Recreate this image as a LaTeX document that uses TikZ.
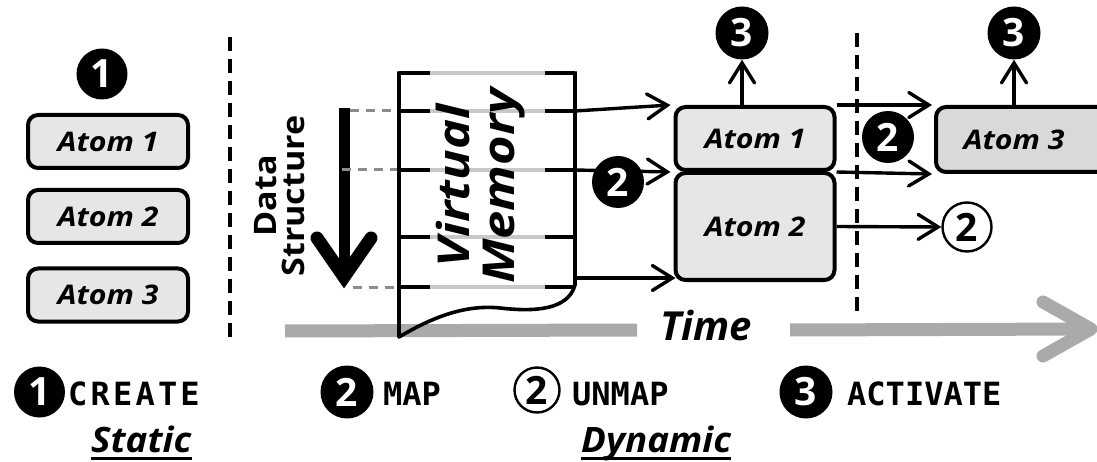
\documentclass[tikz,border=0pt]{standalone}
\usepackage{fontspec}
\setmainfont{Open Sans}
\newfontfamily\monofam{DejaVu Sans Mono}
\newfontfamily\atomfam{Open Sans}[FakeStretch=1.12]
\newfontfamily\kindfam{Open Sans}[FakeStretch=1.05]
\newfontfamily\dsfam{Open Sans}[FakeStretch=1.1]
\newfontfamily\vmfam{Open Sans}[FakeStretch=1.15]
\usetikzlibrary{arrows.meta}
\definecolor{boxgray}{HTML}{E6E6E6}
\definecolor{boxgrayb}{HTML}{D9D9D9}
\definecolor{timegray}{HTML}{AAAAAA}
\definecolor{dashgray}{HTML}{8C8C8C}
\definecolor{linegray}{HTML}{C8C8C8}
\newcommand\atomfont{\atomfam\fontsize{27}{30}\selectfont\bfseries\itshape}
\newcommand\numfont{\fontsize{39}{39}\selectfont\bfseries}
\newcommand\cmdfont{\monofam\fontsize{32}{34}\selectfont\bfseries}
\newcommand\kindfont{\kindfam\fontsize{35}{38}\selectfont\bfseries\itshape}
\begin{document}
\begin{tikzpicture}[x=1pt,y=-1pt,
  atom/.style={draw=black,line width=4pt,rounded corners=10pt,fill=boxgray,inner sep=0pt,font=\atomfont},
  bnum/.style={circle,fill=black,text=white,inner sep=0pt,minimum size=#1,font=\numfont},
  wnum/.style={circle,draw=black,fill=white,line width=2.4pt,text=black,inner sep=0pt,minimum size=#1,font=\numfont},
  conn/.style={line width=3.4pt,-{Straight Barb[length=20pt,width=25pt,line width=3.4pt,line cap=round]}},
  sep/.style={line width=3.2pt,dash pattern=on 14pt off 8pt},
  gdash/.style={dashgray,line width=3pt,dash pattern=on 9pt off 7pt},
  vmline/.style={line width=3.6pt},
  cmd/.style={anchor=base west,inner sep=0pt,font=\cmdfont},
  kind/.style={anchor=base west,inner sep=0pt,font=\kindfont},
]
\useasboundingbox (0,0) rectangle (1097,462);
\clip (0,0) rectangle (1097,462);

% ---------- time axis (drawn first, below everything) ----------
\node[inner sep=0pt,anchor=base,font=\fontsize{40}{40}\selectfont\bfseries\itshape] (time) at (706,340) {Time};
\coordinate (tL) at (285,331);
\coordinate (tR) at (1091,329);
\draw[timegray,line width=13pt] (tL) -- (637,330);
\draw[timegray,line width=13pt] (790,330) -- (tR);
\draw[timegray,line width=13pt,line cap=round,line join=round] (1043,302) -- (tR) -- (1043,356);

% ---------- static part ----------
\node[bnum=51] (c1top) at (102,74) {1};
\node[atom,minimum width=160,minimum height=53] (la1) at (108,141.5) {Atom 1};
\node[atom,minimum width=160,minimum height=53] (la2) at (108,216.5) {Atom 2};
\node[atom,minimum width=160,minimum height=53] (la3) at (108,295) {Atom 3};
\coordinate (sepAt) at (230,37);
\coordinate (sepAb) at (230,338);
\draw[sep] (sepAt) -- (sepAb);

% ---------- data structure ----------
\node[rotate=90,align=center,inner sep=0pt,font=\dsfam\fontsize{31}{28}\selectfont\bfseries] (ds) at (280,196) {Data\\Structure};
\coordinate (dsT) at (344,108);
\coordinate (dsB) at (344,277);
\draw[line width=11pt] (dsT) -- (dsB);
\coordinate (dsL) at (317,238);
\coordinate (dsR) at (371,238);
\draw[line width=13pt,line cap=round,line join=miter] (dsL) -- (dsB) -- (dsR);

% ---------- virtual memory ----------
\foreach \yy in {73,111,170,237,287}{
  \draw[linegray,vmline] (430,\yy) -- (545,\yy);
  \draw[vmline] (399,\yy) -- (430,\yy) (545,\yy) -- (575,\yy);
}
\draw[gdash] (350,111) -- (399,111);
\draw[gdash] (342,170) -- (399,170);
\draw[gdash] (353,287) -- (399,287);
\draw[vmline,line join=round] (399,71.5) -- (399,337)
  .. controls (428,320) and (462,304) .. (500,308)
  .. controls (535,312) and (568,310) .. (575,285) -- (575,71.5);
\node[rotate=90,align=center,inner sep=0pt,font=\vmfam\fontsize{44}{45}\selectfont\bfseries\itshape] (vm) at (481,186) {Virtual\\Memory};
\coordinate (vm1) at (575,111);
\coordinate (vm2) at (575,170);
\coordinate (vm3) at (575,278);

% ---------- dynamic part ----------
\node[atom,minimum width=159,minimum height=63] (ra1) at (755,138.5) {Atom 1};
\node[atom,minimum width=159,minimum height=107] (ra2) at (755,226.5) {Atom 2};
\node[atom,fill=boxgrayb,minimum width=200,minimum height=65,
  label={[font=\atomfont,xshift=-22pt]center:Atom 3}] (ra3) at (1036,139.5) {};
\coordinate (sepBt) at (857,33);
\coordinate (sepBb) at (857,312);
\draw[sep] (sepBt) -- (sepBb);

\draw[conn] (vm1) -- ([xshift=-3]ra1.north west);
\draw[conn] (vm2) -- ([xshift=-3]ra1.south west);
\draw[conn] (vm3) -- ([shift={(2,-4)}]ra2.south west);
\node[bnum=52] (c2a) at (618,182) {2};

\node[bnum=53] (c3a) at (742,33) {3};
\node[bnum=53] (c3b) at (1014,33) {3};
\draw[conn] (c3a |- ra1.north) -- (c3a.south);
\draw[conn] (c3b |- ra3.north) -- (c3b.south);

\draw[conn] (ra1.north east) -- ([xshift=-2]ra3.north west);
\draw[conn] (ra1.south east) -- ([xshift=-2]ra3.south west);
\node[bnum=52] (c2b) at (888,137) {2};
\node[wnum=49] (wc) at (967,227) {2};
\draw[conn] (ra2.east) -- (wc.west);

% ---------- legend ----------
\node[bnum=51] (k1) at (39.5,392) {1};
\node[cmd,font=\cmdfont\addfontfeature{LetterSpace=10}] (kc) at (68,405) {CREATE};
\node[bnum=53] (k2) at (347,392) {2};
\node[cmd] (km) at (383,405) {MAP};
\node[wnum=45] (k2w) at (537,390) {2};
\node[cmd] (ku) at (572,405) {UNMAP};
\node[bnum=53] (k3) at (806,392) {3};
\node[cmd] (ka) at (847,405) {ACTIVATE};

\node[kind] (st) at (91,452) {Static};
\draw[line width=3pt] ([yshift=-6]st.base west) -- ([yshift=-6]st.base east);
\node[kind] (dy) at (581,452) {Dynamic};
\draw[line width=3pt] ([yshift=-6]dy.base west) -- ([yshift=-6]dy.base east);
\end{tikzpicture}
\end{document}
